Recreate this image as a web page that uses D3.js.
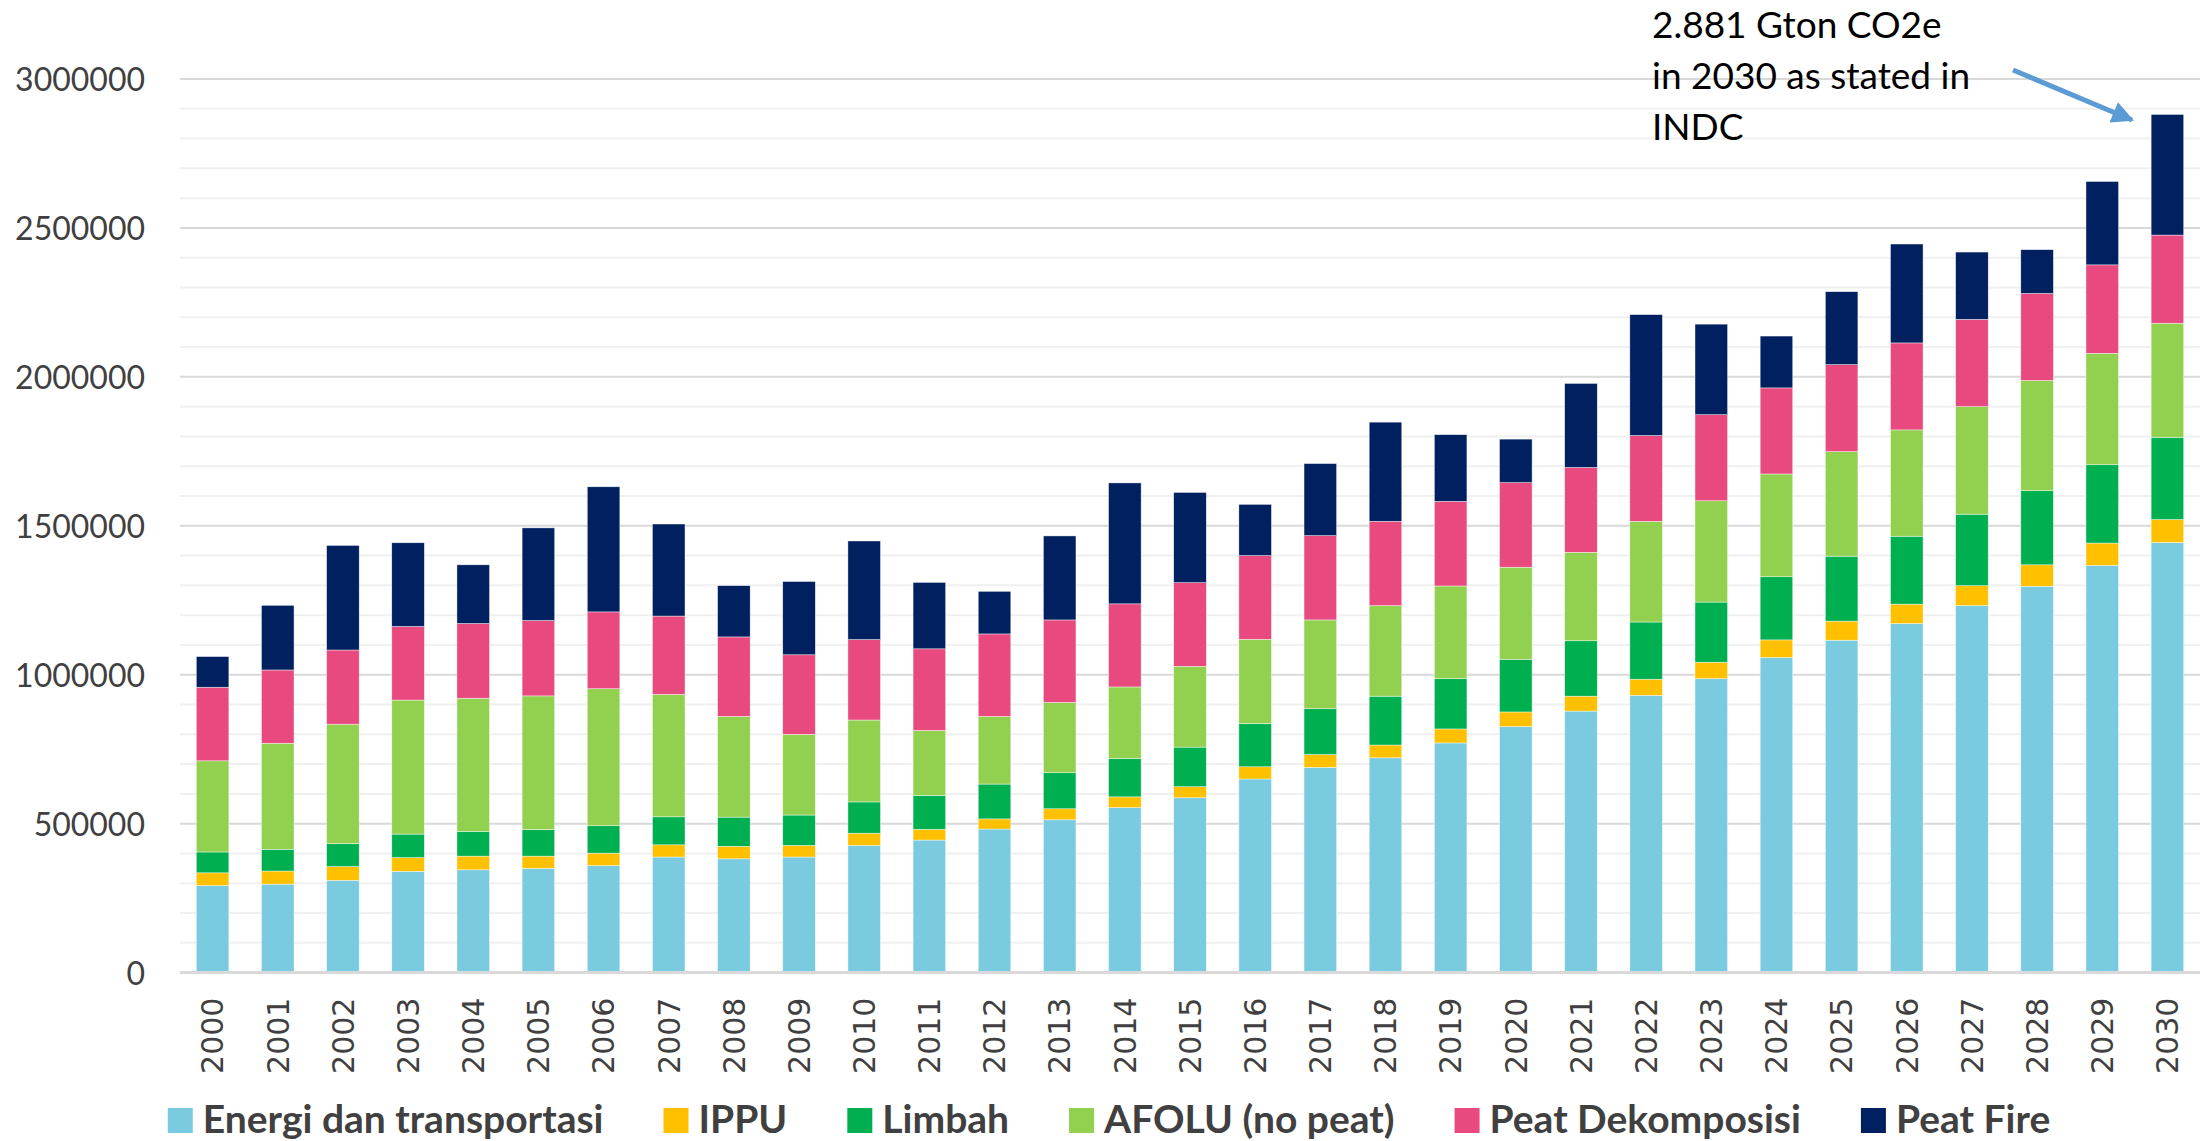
<!DOCTYPE html>
<html>
<head>
<meta charset="utf-8">
<script src="https://cdn.jsdelivr.net/npm/d3@7"></script>
<style>
  body { margin: 0; background: #fff; }
  svg { display: block; }
</style>
</head>
<body>
<div class="chart"></div>
<script>
const w = 2207;
const h = 1141;

// data (ton CO2e)
const years = ["2000","2001","2002","2003","2004","2005","2006","2007","2008","2009","2010",
  "2011","2012","2013","2014","2015","2016","2017","2018","2019","2020",
  "2021","2022","2023","2024","2025","2026","2027","2028","2029","2030"];
const energi = [292000,297000,310000,340000,345000,350000,359000,388000,382000,388000,427000,
  445000,482000,513000,554000,587000,650000,689000,721000,771000,826000,
  878000,931000,987000,1058000,1116000,1172000,1232000,1297000,1367000,1444000];
const ippu = [43000,44000,46000,46000,46000,41000,42000,41000,42000,39000,41000,
  36000,34000,37000,36000,37000,41000,43000,43000,47000,49000,
  50000,54000,55000,59000,64000,65000,67000,72000,75000,77000];
const limbah = [70000,73000,77000,79000,83000,89000,92000,94000,98000,102000,105000,
  114000,117000,121000,129000,133000,145000,154000,164000,169000,177000,
  186000,192000,202000,212000,218000,228000,240000,249000,263000,276000];
const afolu = [306000,356000,401000,450000,447000,449000,460000,411000,338000,271000,275000,
  218000,227000,236000,240000,271000,283000,298000,304000,311000,309000,
  297000,338000,340000,345000,351000,357000,361000,370000,374000,383000];
const peatDek = [247000,246000,249000,247000,251000,253000,258000,263000,267000,267000,270000,
  274000,277000,277000,279000,281000,281000,283000,283000,284000,284000,
  285000,288000,289000,289000,292000,292000,293000,292000,297000,296000];
const peatFire = [103000,217000,351000,281000,197000,311000,420000,309000,172000,246000,331000,
  223000,143000,282000,406000,303000,172000,242000,333000,224000,146000,
  282000,406000,304000,174000,245000,332000,226000,147000,280000,405000];

const seriesNames = ["Energi dan transportasi","IPPU","Limbah","AFOLU (no peat)","Peat Dekomposisi","Peat Fire"];
const seriesColors = ["#7acbe0","#ffc000","#00b050","#92d050","#e84a7f","#002060"];
const yTicks = [0,500000,1000000,1500000,2000000,2500000,3000000];
const noteLines = ["2.881 Gton CO2e","in 2030 as stated in","INDC"];

const keys = ["energi","ippu","limbah","afolu","peatDek","peatFire"];
const rows = years.map((yr, i) => ({
  year: yr, energi: energi[i], ippu: ippu[i], limbah: limbah[i],
  afolu: afolu[i], peatDek: peatDek[i], peatFire: peatFire[i]
}));

const plotL = 180, plotR = 2200, plotT = 79, plotB = 972.6;

let svg = d3.select(".chart")
  .append("svg")
  .attr("width", w)
  .attr("height", h);

let x = d3.scaleBand()
  .domain(years)
  .range([plotL, plotR])
  .paddingInner(0.5)
  .paddingOuter(0.25);

let y = d3.scaleLinear()
  .domain([0, 3000000])
  .range([plotB, plotT]);

// gridlines, minor then major
svg.append("g")
  .selectAll("line")
  .data(d3.range(100000, 3000001, 100000).filter(v => v % 500000 !== 0))
  .enter().append("line")
  .attr("x1", plotL).attr("x2", plotR)
  .attr("y1", d => y(d)).attr("y2", d => y(d))
  .attr("stroke", "#f0f0f0")
  .attr("stroke-width", 2);

svg.append("g")
  .selectAll("line")
  .data(yTicks.filter(v => v > 0))
  .enter().append("line")
  .attr("x1", plotL).attr("x2", plotR)
  .attr("y1", d => y(d)).attr("y2", d => y(d))
  .attr("stroke", "#d9d9d9")
  .attr("stroke-width", 2);

// y axis labels
let yAxis = svg.append("g")
  .attr("transform", "translate(" + (plotL - 35) + ",0)")
  .call(d3.axisLeft(y).tickValues(yTicks).tickFormat(d3.format("d")).tickSize(0).tickPadding(0));
yAxis.select(".domain").remove();
yAxis.selectAll("text")
  .attr("font-family", "Lato, sans-serif")
  .attr("font-size", 32)
  .attr("fill", "#404040")
  .attr("dy", "0.36em");

// stacked bars
const stack = d3.stack().keys(keys)(rows);

svg.append("g")
  .selectAll("g")
  .data(stack)
  .enter().append("g")
  .attr("fill", (d, i) => seriesColors[i])
  .selectAll("rect")
  .data(d => d)
  .enter().append("rect")
  .attr("x", d => x(d.data.year))
  .attr("width", x.bandwidth())
  .attr("y", d => y(d[1]))
  .attr("height", d => y(d[0]) - y(d[1]))
  .attr("stroke", "#ffffff")
  .attr("stroke-width", 0.6)
  .attr("stroke-opacity", 0.7);

// baseline
svg.append("line")
  .attr("x1", plotL).attr("x2", plotR)
  .attr("y1", y(0)).attr("y2", y(0))
  .attr("stroke", "#d9d9d9")
  .attr("stroke-width", 3);

// x axis labels, rotated
let xAxis = svg.append("g")
  .attr("transform", "translate(0," + (y(0) + 25) + ")")
  .call(d3.axisBottom(x).tickSize(0).tickPadding(0));
xAxis.select(".domain").remove();
xAxis.selectAll("text")
  .attr("font-family", "'DejaVu Sans', sans-serif")
  .attr("font-size", 30)
  .attr("fill", "#404040")
  .attr("text-anchor", "end")
  .attr("transform", "rotate(-90)")
  .attr("x", 0)
  .attr("y", 0)
  .attr("dy", "0.36em");

// legend
let legend = svg.append("g");
let lx = 0;
seriesNames.forEach((name, i) => {
  let item = legend.append("g").attr("transform", "translate(" + lx + ",0)");
  item.append("rect")
    .attr("x", 0).attr("y", 1108)
    .attr("width", 25).attr("height", 25)
    .attr("fill", seriesColors[i]);
  let t = item.append("text")
    .attr("x", 35).attr("y", 1133)
    .attr("font-family", "Lato, sans-serif")
    .attr("font-weight", "bold")
    .attr("font-size", 39)
    .attr("fill", "#404040")
    .text(name);
  lx += 35 + t.node().getComputedTextLength() + 60;
});
let legendW = lx - 60;
legend.attr("transform", "translate(" + (1109 - legendW / 2) + ",0)");

// annotation
let note = svg.append("text")
  .attr("font-family", "Lato, sans-serif")
  .attr("font-size", 37)
  .attr("fill", "#000");
noteLines.forEach((line, i) => {
  note.append("tspan").attr("x", 1652).attr("y", 38 + i * 51).text(line);
});

svg.append("defs").append("marker")
  .attr("id", "head")
  .attr("markerUnits", "userSpaceOnUse")
  .attr("viewBox", "0 0 10 10")
  .attr("refX", 9).attr("refY", 5)
  .attr("markerWidth", 26).attr("markerHeight", 22)
  .attr("orient", "auto")
  .append("path")
  .attr("d", "M0,0 L10,5 L0,10 Z")
  .attr("fill", "#5b9bd5");

svg.append("line")
  .attr("x1", 2013).attr("y1", 70)
  .attr("x2", 2132).attr("y2", 120)
  .attr("stroke", "#5b9bd5")
  .attr("stroke-width", 5)
  .attr("marker-end", "url(#head)");
</script>
</body>
</html>
